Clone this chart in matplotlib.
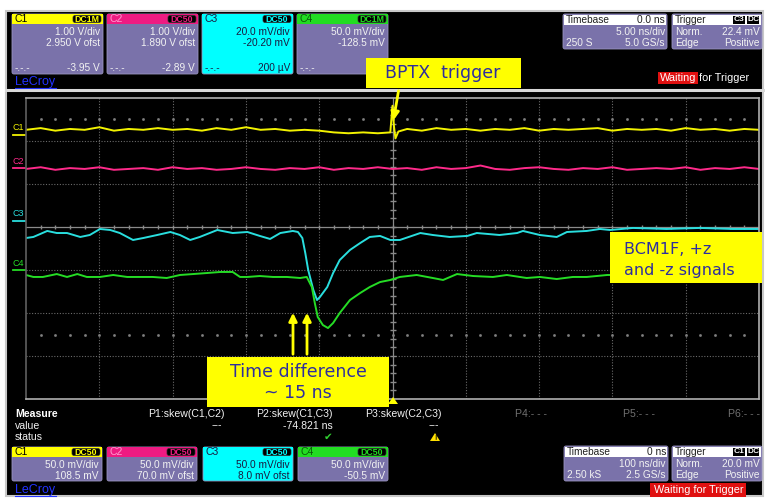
import numpy as np
import matplotlib
matplotlib.use('Agg')
import matplotlib.pyplot as plt
from matplotlib.patches import Rectangle, FancyBboxPatch, Polygon

plt.rcParams['font.family'] = ['Liberation Sans', 'DejaVu Sans']

# --- traces: time in ns (100 ns/div), amplitude in mV (50 mV/div) ---
t1 = [-500, -480, -460, -440, -420, -400, -380, -360, -340, -320, -300, -280, -260, -240,
      -220, -200, -180, -160, -140, -120, -100, -80, -60, -40, -20, -3, 0, 2, 4, 8,
      20, 40, 60, 80, 100, 120, 140, 160, 180, 200, 220, 240, 260, 280, 300, 320, 340,
      360, 380, 400, 420, 440, 460, 480, 500]
c1 = [6, 8, 5, 7, 6, 9, 5, 7, 6, 8, 6, 7, 5, 8, 6, 9, 6, 7, 5, 6, 5,
      3, 2, 3, 2, 3, 34, 10, -4, 4,
      7, 5, 8, 6, 7, 5, 7, 6, 8, 5, 7, 6, 7, 8, 5, 7, 6, 7, 5, 8, 6, 7, 5, 7, 6]

t2 = [-500, -480, -460, -440, -420, -400, -380, -360, -340, -320, -300, -280, -260, -240,
      -220, -200, -180, -160, -140, -120, -100, -80, -60, -40, -20, 0, 20, 40, 60, 80,
      100, 120, 140, 160, 180, 200, 220, 240, 260, 280, 300, 320, 340, 360, 380, 400,
      420, 440, 460, 480, 500]
c2 = [-1, 1, -2, 0, -1, 1, -2, -1, 0, -2, 1, -1, 0, -2, -1, 1, -1, -2, 0, -1,
      1, -2, 0, -1, 1, -1, 0, -2, 1, -1, 0, 3, -1, -2, 0, 1, -1, -2, 0, -1,
      1, -2, -1, 0, -1, 1, -2, 0, -1, 1, -1]

t3 = [-500, -490, -471, -458, -444, -426, -413, -399, -385, -372, -354, -340, -321, -303,
      -290, -276, -263, -239, -218, -198, -181, -167, -153, -136, -129, -123, -119, -115,
      -108, -103, -99, -89, -81, -72, -58, -44, -31, -17, -3, 10, 38, 55, 78, 102, 115,
      146, 170, 178, 201, 224, 238, 265, 283, 297, 328, 374, 419, 464, 500]
c3 = [-19.8, -18.6, -11.6, -14.0, -14.0, -18.6, -16.3, -9.3, -10.5, -14.0, -22.1, -19.8,
      -16.3, -12.8, -16.3, -22.1, -18.6, -10.5, -14.0, -12.8, -17.4, -20.9, -14.0, -11.6,
      -12.8, -19.8, -37.2, -57.0, -80.2, -91.9, -88.4, -76.8, -60.5, -45.4, -33.7, -25.6,
      -18.6, -17.4, -22.1, -22.1, -14.0, -16.3, -18.6, -17.4, -14.0, -16.3, -14.0, -11.6,
      -16.3, -18.6, -12.8, -11.6, -9.3, -10.5, -8.1, -9.3, -8.1, -9.3, -9.3]

t4 = [-500, -490, -477, -458, -444, -430, -417, -399, -381, -362, -344, -327, -308, -290,
      -272, -253, -235, -218, -208, -198, -181, -163, -144, -126, -117, -110, -106, -102,
      -95, -88, -81, -72, -58, -44, -31, -17, -3, 10, 33, 55, 69, 88, 110, 137, 156, 183,
      201, 224, 246, 265, 293, 338, 419, 500]
c4 = [-5.8, -8.1, -8.1, -4.7, -8.1, -4.7, -8.1, -8.1, -5.8, -8.1, -8.1, -8.1, -9.3, -5.8,
      -4.7, -3.5, -2.3, -2.3, -8.1, -8.1, -7.0, -8.1, -8.1, -9.3, -8.1, -19.8, -38.4, -54.7,
      -64.0, -67.5, -61.6, -50.0, -34.9, -26.7, -19.8, -14.0, -11.6, -8.1, -5.8, -9.3,
      -11.6, -4.7, -7.0, -8.1, -5.8, -9.3, -8.1, -10.5, -8.1, -8.1, -5.8, -5.8, -5.8, -5.8]

channels = ['C1', 'C2', 'C3', 'C4']
ground_div = [6.14, 5.37, 4.14, 3.0]   # ground markers, divisions above grid bottom
mv_per_div = 50
trace_colors = ['#f2f200', '#ff2a8a', '#29dede', '#25dc25']
head_colors = ['#ffff00', '#ee1b82', '#00ffff', '#22dd22']

# --- instrument panel texts ---
top_div = ['1.00 V/div', '1.00 V/div', '20.0 mV/div', '50.0 mV/div']
top_ofs = ['2.950 V ofst', '1.890 V ofst', '-20.20 mV', '-128.5 mV']
top_cpl = ['DC1M', 'DC50', 'DC50', 'DC1M']
top_cur = ['-3.95 V', '-2.89 V', '200 µV', '78.5']
bot_div = ['50.0 mV/div'] * 4
bot_ofs = ['108.5 mV', '70.0 mV ofst', '8.0 mV ofst', '-50.5 mV']
measure_names = ['P1:skew(C1,C2)', 'P2:skew(C1,C3)', 'P3:skew(C2,C3)', 'P4:- - -', 'P5:- - -', 'P6:- - -']
measure_values = ['---', '-74.821 ns', '---', '', '', '']

W, H = 765, 498
fig = plt.figure(figsize=(W / 100, H / 100), dpi=100)
fig.patch.set_facecolor('white')

bg = fig.add_axes([0, 0, 1, 1], zorder=0)
bg.set_xlim(0, W)
bg.set_ylim(H, 0)
bg.axis('off')

panel = '#7a72aa'
light = '#f2f2f2'
fs = 7.3

bg.add_patch(Rectangle((6, 11), 757, 485, facecolor='black', edgecolor='#c8c8c8', lw=1.5))
bg.plot([6, 763], [90, 90], color='#d8d8d8', lw=2.2)


def channel_box(x, y, w, h, i, coupling, lines):
    face = head_colors[i] if i == 2 else panel
    fg = '#1a1a40' if i == 2 else light
    bg.add_patch(FancyBboxPatch((x, y), w, h, boxstyle='round,pad=0,rounding_size=2',
                                facecolor=face, edgecolor='#9a94c0', lw=0.6))
    bg.add_patch(Rectangle((x, y), w, 10, facecolor=head_colors[i], edgecolor='none'))
    name_col = ['black', '#ff9ad0', '#1a1a40', '#0a5a0a'][i]
    bg.text(x + 3, y + 5, channels[i], fontsize=7.5, color=name_col, va='center')
    bg.add_patch(FancyBboxPatch((x + w - 30, y + 1.5), 28, 7, boxstyle='round,pad=0,rounding_size=2',
                                facecolor='black', edgecolor='#303030', lw=0.5))
    bg.text(x + w - 16, y + 5.2, coupling, fontsize=6.3, color=head_colors[i],
            ha='center', va='center', fontweight='bold')
    for yy, s in lines:
        bg.text(x + w - 3, yy, s, fontsize=fs, color=fg, ha='right', va='center')
    return fg


# top channel boxes
for i, x in enumerate([12, 107, 202, 297]):
    fg = channel_box(x, 14, 91, 60, i, top_cpl[i], [(32, top_div[i]), (43, top_ofs[i]), (68, top_cur[i])])
    bg.text(x + 3, 68, '-.-.-', fontsize=fs, color=fg, va='center')

# bottom channel boxes
for i, x in enumerate([12, 107, 203, 298]):
    channel_box(x, 447, 90, 34, i, 'DC50', [(465, bot_div[i]), (476, bot_ofs[i])])

# LeCroy logos
for yy in [82, 490]:
    bg.text(15, yy, 'LeCroy', fontsize=9, color='#2233ff', va='center')
    bg.plot([15, 56], [yy + 5.5, yy + 5.5], color='#2233ff', lw=0.8)


def info_box(x, y, w, rows, head_right, tags=None):
    bg.add_patch(FancyBboxPatch((x, y), w, 35, boxstyle='round,pad=0,rounding_size=2',
                                facecolor=panel, edgecolor='#9a94c0', lw=0.6))
    bg.add_patch(Rectangle((x + 1, y + 1), w - 2, 9.5, facecolor='white', edgecolor='none'))
    bg.text(x + 3, y + 5.5, rows[0], fontsize=fs, color='#202020', va='center')
    if tags is None:
        bg.text(x + w - 2, y + 5.5, head_right, fontsize=fs, color='#202020', ha='right', va='center')
    else:
        xx = x + w - 2
        for tg in reversed(tags):
            bg.add_patch(Rectangle((xx - 13, y + 1.5), 12.5, 8, facecolor='black'))
            bg.text(xx - 6.7, y + 5.5, tg, fontsize=6, color='white', ha='center', va='center',
                    fontweight='bold')
            xx -= 14
    for k, (left, right) in enumerate(rows[1:]):
        yy = y + 18 + k * 10.5
        bg.text(x + 3, yy, left, fontsize=fs, color=light, va='center')
        bg.text(x + w - 2, yy, right, fontsize=fs, color=light, ha='right', va='center')


info_box(563, 14, 104, ['Timebase', ('', '5.00 ns/div'), ('250 S', '5.0 GS/s')], '0.0 ns')
info_box(672, 14, 90, ['Trigger', ('Norm.', '22.4 mV'), ('Edge', 'Positive')], '', tags=['C3', 'DC'])
info_box(564, 446, 104, ['Timebase', ('', '100 ns/div'), ('2.50 kS', '2.5 GS/s')], '0 ns')
info_box(672, 446, 90, ['Trigger', ('Norm.', '20.0 mV'), ('Edge', 'Positive')], '', tags=['C1', 'DC'])

# waiting for trigger
bg.add_patch(Rectangle((658, 72), 40, 12, facecolor='#e01010'))
bg.text(660, 78, 'Waiting', fontsize=7.8, color='white', va='center')
bg.text(699, 78, 'for Trigger', fontsize=7.8, color='white', va='center')
bg.add_patch(Rectangle((650, 483), 96, 14, facecolor='#e01010'))
bg.text(654, 490, 'Waiting for Trigger', fontsize=7.8, color='white', va='center')

# measure table
bg.text(15, 414, 'Measure', fontsize=7.6, color='white', va='center', fontweight='bold')
bg.text(15, 425.5, 'value', fontsize=7.6, color=light, va='center')
bg.text(15, 437, 'status', fontsize=7.6, color=light, va='center')
for k, xr in enumerate([225, 333, 442, 547, 655, 760]):
    col = light if k < 3 else '#707070'
    bg.text(xr, 414, measure_names[k], fontsize=7.6, color=col, ha='right', va='center')
    if measure_values[k]:
        bg.text(xr - (0 if k == 1 else 3), 425.5, measure_values[k], fontsize=7.6, color=light,
                ha='right', va='center')
bg.text(328, 437, '\u2714', fontsize=7.5, color='#30d030', ha='center', va='center',
        family='DejaVu Sans')
bg.add_patch(Polygon([[430, 441], [440, 441], [435, 433]], facecolor='#ffe000'))
bg.text(435, 438.5, '!', fontsize=5, color='black', ha='center', va='center', fontweight='bold')

# channel ground markers left of grid
for i in range(4):
    yp = 399 - ground_div[i] * 43
    bg.text(13, yp - 7, channels[i], fontsize=6.5, color=trace_colors[i], va='center')
    bg.plot([13, 25], [yp, yp], color=trace_colors[i], lw=1.3)

# --- waveform grid ---
ax = fig.add_axes([26 / W, (H - 399) / H, 733 / W, 301 / H], zorder=1)
ax.set_facecolor('black')
ax.set_xlim(-500, 500)
ax.set_ylim(0, 7)
ax.set_xticks([])
ax.set_yticks([])
for s in ax.spines.values():
    s.set_color('#b0b0b0')
    s.set_linewidth(1.2)
ax.spines['left'].set_color('#606060')

gcol = '#6a6a6a'
for v in range(-400, 500, 100):
    if v != 0:
        ax.axvline(v, color=gcol, lw=0.8, ls=(0, (1, 1.5)))
ax.axvline(0, color='#8a8a8a', lw=0.9)
for d in [1, 2, 3, 5, 6]:
    ax.axhline(d, color=gcol, lw=0.8, ls=(0, (1, 1.5)))
ax.axhline(4, color='#8a8a8a', lw=0.9)
mt = np.arange(-480, 500, 20)
for d in [1.5, 6.5]:
    ax.plot(mt, np.full(mt.shape, d), ls='none', marker='s', ms=0.9, color='#808080')
ax.plot(mt, np.full(mt.shape, 4.0), ls='none', marker='|', ms=3, color='#8a8a8a')
md = np.arange(0.2, 7, 0.2)
ax.plot(np.zeros(md.shape), md, ls='none', marker='_', ms=4, color='#8a8a8a')

traces = [(t1, c1), (t2, c2), (t3, c3), (t4, c4)]
for i, (t, v) in enumerate(traces):
    ax.plot(t, ground_div[i] + np.array(v) / mv_per_div, color=trace_colors[i], lw=1.4)

# --- annotation overlay ---
ov = fig.add_axes([0, 0, 1, 1], zorder=2)
ov.set_xlim(0, W)
ov.set_ylim(H, 0)
ov.axis('off')
ov.patch.set_alpha(0)

note = '#2e2e9e'
ov.add_patch(Rectangle((366, 58), 155, 30, facecolor='#ffff00', edgecolor='none'))
ov.text(443, 73, 'BPTX  trigger', fontsize=12.5, color=note, ha='center', va='center',
        family='DejaVu Sans')
ov.annotate('', xy=(393, 123), xytext=(399, 88),
            arrowprops=dict(arrowstyle='-|>', color='#ffff00', lw=2, mutation_scale=12))

ov.add_patch(Rectangle((207, 357), 182, 50, facecolor='#ffff00', edgecolor='none'))
ov.text(298, 372, 'Time difference', fontsize=12.5, color=note, ha='center', va='center',
        family='DejaVu Sans')
ov.text(298, 393, '~ 15 ns', fontsize=12.5, color=note, ha='center', va='center',
        family='DejaVu Sans')
for xa in [293, 307]:
    ov.annotate('', xy=(xa, 310), xytext=(xa, 357),
                arrowprops=dict(arrowstyle='-|>', color='#ffff00', lw=2, mutation_scale=12))
ov.add_patch(Polygon([[388, 404], [398, 404], [393, 397]], facecolor='#ffff00'))

ov.add_patch(Rectangle((610, 232), 152, 51, facecolor='#ffff00', edgecolor='none'))
ov.text(624, 249, 'BCM1F, +z', fontsize=11.5, color=note, va='center', family='DejaVu Sans')
ov.text(624, 270, 'and -z signals', fontsize=11.5, color=note, va='center', family='DejaVu Sans')

fig.savefig('out.png', dpi=100)
